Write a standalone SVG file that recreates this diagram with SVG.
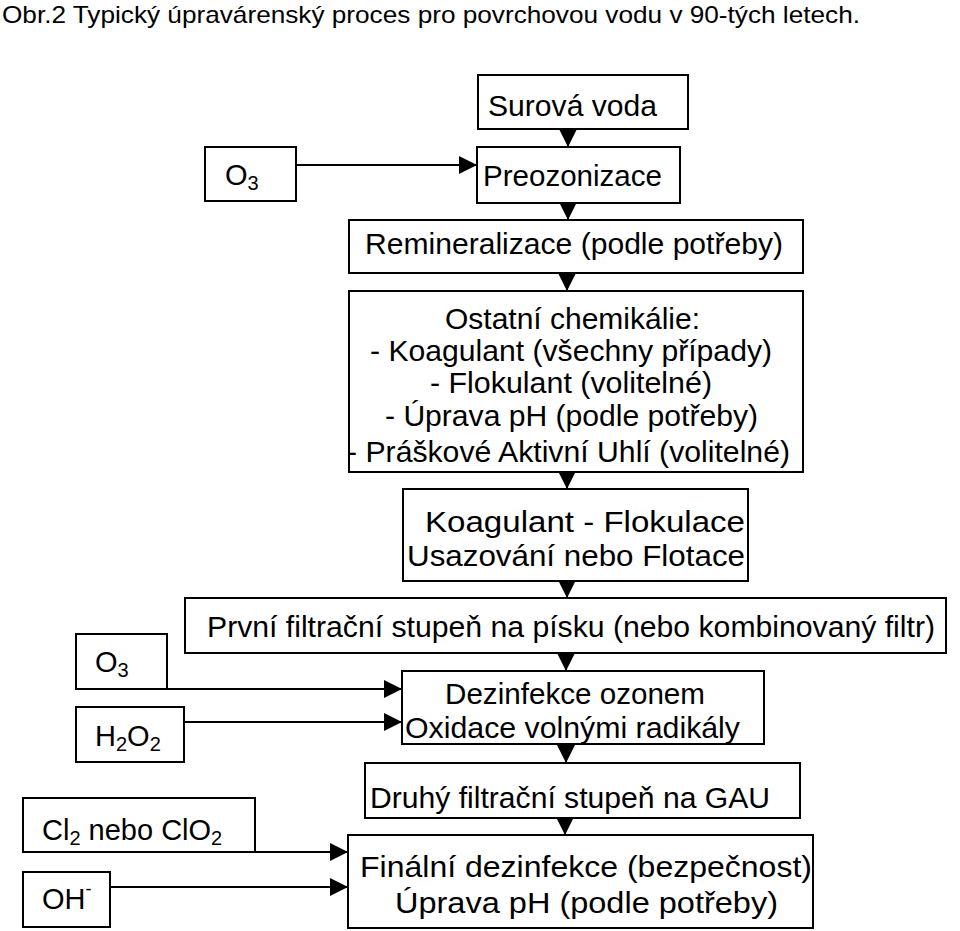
<svg xmlns="http://www.w3.org/2000/svg" width="960" height="931" viewBox="0 0 960 931">
<style>
rect.box{fill:#fff;stroke:#000;stroke-width:2}
text{font-family:"Liberation Sans",Arial,sans-serif;font-size:29px;fill:#000}
text.title{font-size:24px}
.conn line{stroke:#000;stroke-width:2}
</style>
<defs>
<marker id="ah" viewBox="0 0 18 18" markerWidth="18" markerHeight="18" refX="18" refY="9" orient="auto" markerUnits="userSpaceOnUse">
<path d="M0,0 L18,9 L0,18 z" fill="#000"/>
</marker>
</defs>
<rect width="960" height="931" fill="#fff"/>
<text class="title" x="2" y="23" textLength="858" lengthAdjust="spacingAndGlyphs">Obr.2 Typický úpravárenský proces pro povrchovou vodu v 90-tých letech.</text>

<g id="surova"><rect class="box" x="478" y="75" width="210" height="54"/><text x="488" y="116" textLength="169" lengthAdjust="spacingAndGlyphs">Surová voda</text></g>
<g id="preozonizace"><rect class="box" x="477" y="147" width="203" height="56"/><text x="483" y="186" textLength="179" lengthAdjust="spacingAndGlyphs">Preozonizace</text></g>
<g id="o3a"><rect class="box" x="205" y="147" width="91" height="54"/><text x="225" y="185">O<tspan font-size="20" dy="5">3</tspan></text></g>
<g id="remineralizace"><rect class="box" x="349" y="220" width="454" height="53"/><text x="365" y="254" textLength="418" lengthAdjust="spacingAndGlyphs">Remineralizace (podle potřeby)</text></g>
<g id="ostatni"><rect class="box" x="349" y="291" width="454" height="181"/>
<text x="445" y="329" textLength="255" lengthAdjust="spacingAndGlyphs">Ostatní chemikálie:</text>
<text x="370" y="361" textLength="402" lengthAdjust="spacingAndGlyphs">- Koagulant (všechny případy)</text>
<text x="430" y="393" textLength="282" lengthAdjust="spacingAndGlyphs">- Flokulant (volitelné)</text>
<text x="385" y="426" textLength="373" lengthAdjust="spacingAndGlyphs">- Úprava pH (podle potřeby)</text>
<text x="347" y="462" textLength="443" lengthAdjust="spacingAndGlyphs">- Práškové Aktivní Uhlí (volitelné)</text></g>
<g id="koagulant"><rect class="box" x="403" y="489" width="345" height="92"/>
<text x="425" y="532" textLength="320" lengthAdjust="spacingAndGlyphs">Koagulant - Flokulace</text>
<text x="407" y="566" textLength="338" lengthAdjust="spacingAndGlyphs">Usazování nebo Flotace</text></g>
<g id="prvni"><rect class="box" x="185" y="598" width="761" height="55"/><text x="207" y="637" textLength="728" lengthAdjust="spacingAndGlyphs">První filtrační stupeň na písku (nebo kombinovaný filtr)</text></g>
<g id="o3b"><rect class="box" x="76" y="634" width="91" height="55"/><text x="95" y="672">O<tspan font-size="20" dy="5">3</tspan></text></g>
<g id="h2o2"><rect class="box" x="76" y="707" width="108" height="55"/><text x="95" y="746">H<tspan font-size="20" dy="5">2</tspan><tspan dy="-5">O</tspan><tspan font-size="20" dy="5">2</tspan></text></g>
<g id="dezinfekce"><rect class="box" x="402" y="671" width="362" height="73"/>
<text x="445" y="704" textLength="260" lengthAdjust="spacingAndGlyphs">Dezinfekce ozonem</text>
<text x="405" y="738" textLength="335" lengthAdjust="spacingAndGlyphs">Oxidace volnými radikály</text></g>
<g id="druhy"><rect class="box" x="365" y="763" width="435" height="55"/><text x="370" y="808" textLength="400" lengthAdjust="spacingAndGlyphs">Druhý filtrační stupeň na GAU</text></g>
<g id="cl2"><rect class="box" x="23" y="798" width="232" height="54"/><text x="42" y="840">Cl<tspan font-size="20" dy="5">2</tspan><tspan dy="-5"> nebo ClO</tspan><tspan font-size="20" dy="5">2</tspan></text></g>
<g id="oh"><rect class="box" x="23" y="872" width="87" height="55"/><text x="42" y="909">OH<tspan font-size="18" dy="-14">-</tspan></text></g>
<g id="finalni"><rect class="box" x="348" y="835" width="465" height="93"/>
<text x="360" y="877" textLength="452" lengthAdjust="spacingAndGlyphs">Finální dezinfekce (bezpečnost)</text>
<text x="395" y="913" textLength="383" lengthAdjust="spacingAndGlyphs">Úprava pH (podle potřeby)</text></g>

<g class="conn" id="connectors">
<line x1="568" y1="129" x2="568" y2="147" marker-end="url(#ah)"/>
<line x1="568" y1="203" x2="568" y2="220" marker-end="url(#ah)"/>
<line x1="567" y1="273" x2="567" y2="291" marker-end="url(#ah)"/>
<line x1="567" y1="472" x2="567" y2="489" marker-end="url(#ah)"/>
<line x1="567" y1="581" x2="567" y2="598" marker-end="url(#ah)"/>
<line x1="566" y1="653" x2="566" y2="671" marker-end="url(#ah)"/>
<line x1="566" y1="744" x2="566" y2="763" marker-end="url(#ah)"/>
<line x1="565" y1="818" x2="565" y2="835" marker-end="url(#ah)"/>
<line x1="296" y1="165" x2="477" y2="165" marker-end="url(#ah)"/>
<line x1="167" y1="689" x2="402" y2="689" marker-end="url(#ah)"/>
<line x1="184" y1="722" x2="402" y2="722" marker-end="url(#ah)"/>
<line x1="255" y1="852" x2="348" y2="852" marker-end="url(#ah)"/>
<line x1="110" y1="887" x2="348" y2="887" marker-end="url(#ah)"/>
</g>
</svg>
